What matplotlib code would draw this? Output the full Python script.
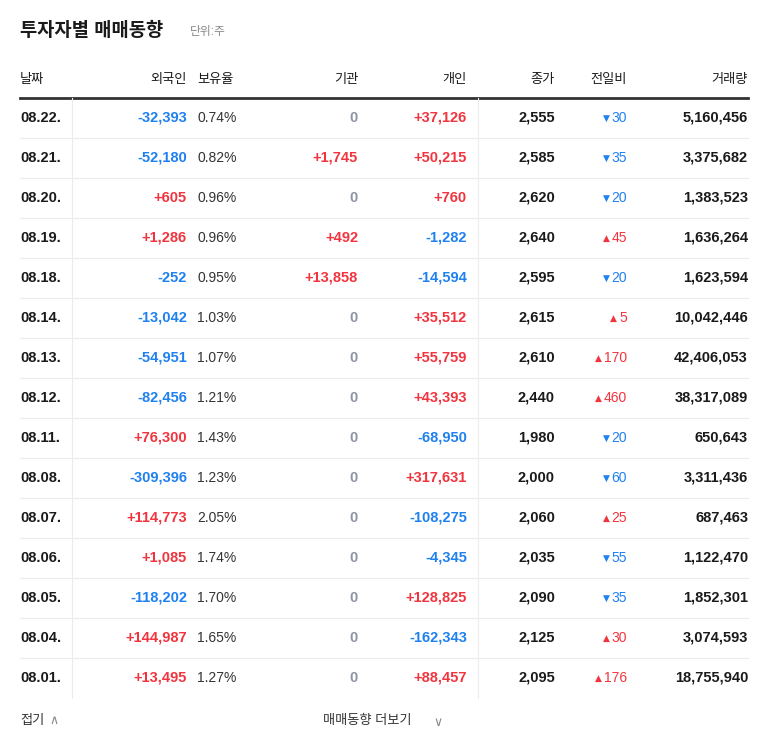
import matplotlib
matplotlib.use("Agg")
import matplotlib.pyplot as plt

dates = ["08.22.","08.21.","08.20.","08.19.","08.18.","08.14.","08.13.","08.12.","08.11.","08.08.","08.07.","08.06.","08.05.","08.04.","08.01."]
foreign = [-32393,-52180,605,1286,-252,-13042,-54951,-82456,76300,-309396,114773,1085,-118202,144987,13495]
holding = [0.74,0.82,0.96,0.96,0.95,1.03,1.07,1.21,1.43,1.23,2.05,1.74,1.70,1.65,1.27]
inst = [0,1745,0,492,13858,0,0,0,0,0,0,0,0,0,0]
indiv = [37126,50215,760,-1282,-14594,35512,55759,43393,-68950,317631,-108275,-4345,128825,-162343,88457]
close = [2555,2585,2620,2640,2595,2615,2610,2440,1980,2000,2060,2035,2090,2125,2095]
change = [-30,-35,-20,45,-20,5,170,460,-20,-60,25,-55,-35,30,176]
volume = [5160456,3375682,1383523,1636264,1623594,10042446,42406053,38317089,650643,3311436,687463,1122470,1852301,3074593,18755940]
headers = ["날짜","외국인","보유율","기관","개인","종가","전일비","거래량"]

FONT = ["Liberation Sans", "Noto Sans CJK JP", "Noto Sans CJK KR", "DejaVu Sans"]
RED = "#f2343e"; BLUE = "#1f80f0"; GRAY = "#8b95a1"; DARK = "#1a1a1a"

fig = plt.figure(figsize=(7.68, 7.49), dpi=100)
ax = fig.add_axes([0, 0, 1, 1])
ax.set_xlim(0, 768); ax.set_ylim(749, 0); ax.axis("off")

def t(x, y, s, ha="left", color=DARK, size=10, weight="normal", family=FONT):
    ax.text(x, y, s, ha=ha, va="center", color=color, fontsize=size, fontweight=weight, family=family)

def signed(v):
    if v == 0: return "0", GRAY
    return (f"+{v:,}", RED) if v > 0 else (f"-{abs(v):,}", BLUE)

t(20, 31, "투자자별 매매동향", size=13.5, weight="bold")
t(190, 32, "단위:주", size=8.5, color="#888888")

hx = [(20,"left"),(187,"right"),(197,"left"),(358,"right"),(467,"right"),(555,"right"),(627,"right"),(748,"right")]
for (x, ha), h in zip(hx, headers):
    t(x, 80, h, ha=ha, size=9.5)
ax.plot([20, 748], [98, 98], color="#333333", lw=2)

top = 98; rh = 40
for i in range(len(dates)):
    y = top + rh*(i+0.5)
    if i > 0:
        ax.plot([20, 748], [top+rh*i]*2, color="#ececec", lw=0.8)
    t(20, y, dates[i], weight="bold", size=10.5)
    s, c = signed(foreign[i]); t(187, y, s, ha="right", color=c, weight="bold", size=10.5)
    t(197, y, f"{holding[i]:.2f}%", color="#333333", size=10)
    s, c = signed(inst[i]); t(358, y, s, ha="right", color=c, weight="bold", size=10.5)
    s, c = signed(indiv[i]); t(467, y, s, ha="right", color=c, weight="bold", size=10.5)
    t(555, y, f"{close[i]:,}", ha="right", weight="bold", size=10.5)
    ch = change[i]
    c = RED if ch > 0 else BLUE
    num = f"{abs(ch)}"
    t(627, y, num, ha="right", color=c, size=10)
    t(627 - 7.7*len(num) - 2, y, "▲" if ch > 0 else "▼", ha="right", color=c, size=6.5,
      family=["DejaVu Sans"])
    t(748, y, f"{volume[i]:,}", ha="right", weight="bold", size=10.5)
ax.plot([72, 72], [98, 698], color="#ececec", lw=0.8)
ax.plot([478, 478], [98, 698], color="#ececec", lw=0.8)

t(20, 721, "접기", size=9.5, color="#333333")
t(49, 721, "∧", size=9, color="#888888", family=["DejaVu Sans"])
t(323, 721, "매매동향 더보기", size=9.5, color="#333333")
t(433, 722, "∨", size=9, color="#888888", family=["DejaVu Sans"])

fig.savefig("out.png", dpi=100)
